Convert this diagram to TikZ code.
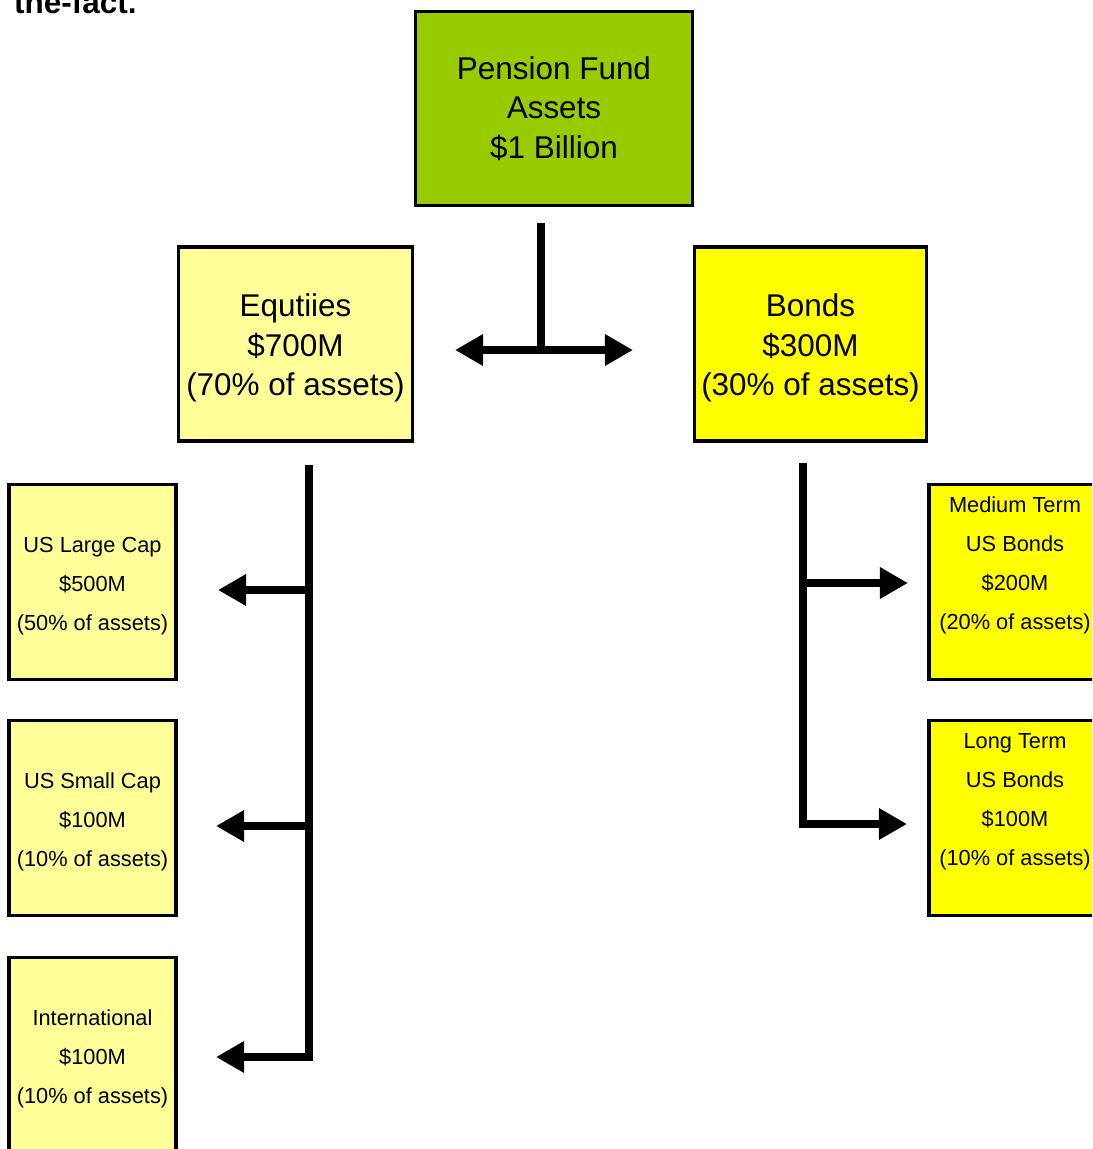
\documentclass[tikz,border=0pt]{standalone}
\usepackage{fontspec}
\setmainfont{Liberation Sans}
\usetikzlibrary{arrows.meta}
\definecolor{pfgreen}{HTML}{99CC00}
\definecolor{lightyel}{HTML}{FFFF99}
\definecolor{brightyel}{HTML}{FFFF00}
\begin{document}
\begin{tikzpicture}[x=0.02cm,y=-0.02cm,
  box/.style={draw=black,line width=1.8pt,inner sep=0pt},
  bigbox/.style={box,minimum width=4.66cm,minimum height=3.88cm},
  smallbox/.style={box,minimum width=3.34cm,minimum height=3.9cm},
  bigtxt/.style={inner sep=0pt,align=center,text=black,font=\fontsize{17.9}{22.4}\selectfont},
  smalltxt/.style={inner sep=0pt,align=center,text=black,font=\fontsize{12.4}{22.2}\selectfont},
  conn/.style={line width=4.5pt,line join=miter},
  arr/.style={conn,-{Triangle[length=16pt,width=17pt]}}]
\clip (0,0) rectangle (1092,1149);
\node[anchor=base west,font=\fontsize{17.9}{22}\selectfont\bfseries] (title) at (8,14) {the-fact.};
% boxes
\node[box,fill=pfgreen,minimum width=5.54cm,minimum height=3.88cm] (pf) at (554,108.5) {};
\node[bigbox,fill=lightyel,minimum width=4.68cm] (eq) at (295.5,344) {};
\node[bigbox,fill=brightyel,minimum width=4.64cm] (bo) at (810.5,344) {};
\node[smallbox,fill=lightyel] (lc) at (92.5,582) {};
\node[smallbox,fill=lightyel] (sc) at (92.5,818) {};
\node[smallbox,fill=lightyel] (in) at (92.5,1055) {};
\node[smallbox,fill=brightyel,minimum width=3.44cm] (mt) at (1015,582) {};
\node[smallbox,fill=brightyel,minimum width=3.44cm] (lt) at (1015,818) {};
% texts
\node[bigtxt,font=\fontsize{17.9}{22.6}\selectfont] (pft) at (pf.center) {Pension Fund\\Assets\\\$1 Billion};
\node[bigtxt] (eqt) at ([yshift=-0.08cm]eq.center) {Equtiies\\\$700M\\(70\% of assets)};
\node[bigtxt] (bot) at ([yshift=-0.08cm]bo.center) {Bonds\\\$300M\\(30\% of assets)};
\node[smalltxt] (lct) at ([yshift=-0.08cm]lc.center) {US Large Cap\\\$500M\\(50\% of assets)};
\node[smalltxt] (sct) at ([yshift=-0.08cm]sc.center) {US Small Cap\\\$100M\\(10\% of assets)};
\node[smalltxt] (int) at ([yshift=-0.08cm]in.center) {International\\\$100M\\(10\% of assets)};
\node[smalltxt] (mtt) at ([yshift=0.33cm]mt.center) {Medium Term\\US Bonds\\\$200M\\(20\% of assets)};
\node[smalltxt] (ltt) at ([yshift=0.33cm]lt.center) {Long Term\\US Bonds\\\$100M\\(10\% of assets)};
% connector coordinates
\coordinate (t0) at (541,223);
\coordinate (t1) at (541,350);
\coordinate (tl) at (455,350);
\coordinate (tr) at (633,350);
\coordinate (l0) at (309,465);
\coordinate (l1) at (309,590);
\coordinate (l2) at (309,826);
\coordinate (l3) at (309,1057);
\coordinate (la) at (218,590);
\coordinate (lb) at (216,826);
\coordinate (lcc) at (216,1057);
\coordinate (r0) at (803,463);
\coordinate (r1) at (803,583);
\coordinate (r2) at (803,824);
\coordinate (ra) at (908,583);
\coordinate (rb) at (907,824);
% connectors
\draw[conn] (t0) -- (t1);
\draw[conn,{Triangle[length=16pt,width=17pt]}-{Triangle[length=16pt,width=17pt]}] (tl) -- (tr);
\draw[arr] (l0) -- (l3) -- (lcc);
\draw[arr] (l1) -- (la);
\draw[arr] (l2) -- (lb);
\draw[arr] (r0) -- (r2) -- (rb);
\draw[arr] (r1) -- (ra);
\end{tikzpicture}
\end{document}
